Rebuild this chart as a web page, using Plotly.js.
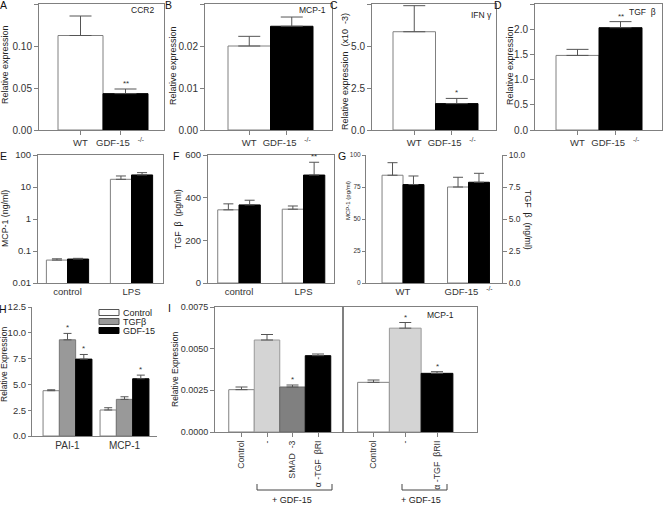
<!DOCTYPE html>
<html><head><meta charset="utf-8">
<script src="https://cdn.plot.ly/plotly-3.0.1.min.js"></script>
<style>html,body{margin:0;padding:0;background:#fff}</style>
</head><body><div id="chart" style="width:664px;height:510px"></div>
<script>
// ---------------- data ----------------
const genotypeLabels = ['WT', 'GDF-15   <sup>-/-</sup>'];
const ccr2 = [0.1125, 0.0433], ccr2Err = [0.0232, 0.0055];
const mcp1Rel = [0.0200, 0.0247], mcp1RelErr = [0.0023, 0.0022];
const ifng = [5.85, 1.57], ifngErr = [1.55, 0.31];
const tgfbRel = [1.48, 2.03], tgfbRelErr = [0.12, 0.12];

const treatments = ['control', 'LPS'];
const mcp1WT = [0.052, 17.4], mcp1WTErr = [0.005, 4.7];
const mcp1KO = [0.056, 23.8], mcp1KOErr = [0.003, 4.3];
const tgfbWT = [343, 346], tgfbWTErr = [28, 15];
const tgfbKO = [366, 506], tgfbKOErr = [22, 60];

const gMcp1 = [84.2, 75.0], gMcp1Err = [9.8, 7.6];
const gTgfb = [7.69, 7.87], gTgfbErr = [0.67, 0.70];

const hGenes = ['PAI-1', 'MCP-1'];
const hSeries = ['Control', 'TGFβ', 'GDF-15'];
const hControl = [4.39, 2.52], hControlErr = [0.09, 0.22];
const hTgfb = [9.32, 3.55], hTgfbErr = [0.62, 0.25];
const hGdf = [7.45, 5.55], hGdfErr = [0.45, 0.35];

const iLeftLabels = ['Control', '-', 'SMAD  -3', 'α -TGF  βRI'];
const iLeft = [0.00254, 0.00552, 0.00270, 0.00458], iLeftErr = [0.00016, 0.00033, 0.00012, 0.00010];
const iRightLabels = ['Control', '-', 'α -TGF  βRII'];
const iRight = [0.00298, 0.00623, 0.00352], iRightErr = [0.00014, 0.00034, 0.00010];

// ---------------- style / geometry ----------------
const W = 664, H = 510;
const FAM = 'Liberation Sans, Arial, Helvetica, sans-serif';
const LC = '#808080';
const f = (s, c) => ({family: FAM, size: s, color: c || '#333'});
const TF = f(9.5);
const WHITE = '#ffffff', BLACK = '#000000';
const px = p => p / W, py = p => 1 - p / H;

function xCat(l, r, c0, s, anchor, extra) {
  return Object.assign({
    domain: [l / W, r / W], range: [(l - c0) / s, (r - c0) / s], anchor: anchor,
    showline: true, linecolor: LC, linewidth: 1, showgrid: false, zeroline: false,
    ticks: 'outside', ticklen: 4, tickcolor: LC, tickfont: TF, fixedrange: true
  }, extra || {});
}
function yAx(t, b, range, anchor, extra) {
  return Object.assign({
    domain: [1 - b / H, 1 - t / H], range: range, anchor: anchor,
    showline: true, linecolor: LC, linewidth: 1, showgrid: false, zeroline: false,
    ticks: 'outside', ticklen: 4, tickcolor: LC, tickfont: TF, fixedrange: true
  }, extra || {});
}
function errY(arr, w) {
  return {type: 'data', array: arr, arrayminus: arr.map(() => 0), symmetric: false,
          color: '#555', thickness: 1, width: w};
}
function bar(x, y, err, xa, ya, fill, line, width, offset, ew) {
  const t = {type: 'bar', x: x, y: y, xaxis: xa, yaxis: ya, width: width,
    marker: {color: fill, line: {color: line, width: 1}},
    error_y: errY(err, ew), hoverinfo: 'skip'};
  if (offset !== null) t.offset = offset;
  return t;
}
const idx = n => Array.from({length: n}, (_, i) => i);

// ---------------- traces ----------------
const traces = [];
// A-D: WT (white) vs GDF-15-/- (black)
[[ccr2, ccr2Err, 'x', 'y'], [mcp1Rel, mcp1RelErr, 'x2', 'y2'],
 [ifng, ifngErr, 'x3', 'y3'], [tgfbRel, tgfbRelErr, 'x4', 'y4']].forEach(p => {
  traces.push(bar([0, 1], p[0], p[1], p[2], p[3], [WHITE, BLACK], [LC, BLACK], 1, null, 11));
});
// E
const wEF = 0.33;
traces.push(bar([0, 1], mcp1WT, mcp1WTErr, 'x5', 'y5', WHITE, LC, wEF, -wEF, 5));
traces.push(bar([0, 1], mcp1KO, mcp1KOErr, 'x5', 'y5', BLACK, BLACK, wEF, 0, 5));
// F
traces.push(bar([0, 1], tgfbWT, tgfbWTErr, 'x6', 'y6', WHITE, LC, wEF, -wEF, 5));
traces.push(bar([0, 1], tgfbKO, tgfbKOErr, 'x6', 'y6', BLACK, BLACK, wEF, 0, 5));
// G
const wG = 0.32;
traces.push(bar([0, 1], gMcp1, gMcp1Err, 'x7', 'y7', WHITE, LC, wG, -wG, 5));
traces.push(bar([0, 1], gTgfb, gTgfbErr, 'x7', 'y8', BLACK, BLACK, wG, 0, 5));
// H
const wH = 0.286;
traces.push(bar([0, 1], hControl, hControlErr, 'x9', 'y9', WHITE, LC, wH, -1.5 * wH, 4));
traces.push(bar([0, 1], hTgfb, hTgfbErr, 'x9', 'y9', '#999999', '#777', wH, -0.5 * wH, 4));
traces.push(bar([0, 1], hGdf, hGdfErr, 'x9', 'y9', BLACK, BLACK, wH, 0.5 * wH, 4));
// I
traces.push(bar(idx(iLeft.length), iLeft, iLeftErr, 'x10', 'y10',
  [WHITE, '#d4d4d4', '#808080', BLACK], [LC, '#999', '#666', BLACK], 1, null, 6));
traces.push(bar(idx(iRight.length), iRight, iRightErr, 'x11', 'y11',
  [WHITE, '#d4d4d4', BLACK], [LC, '#999', BLACK], 1, null, 6));

// ---------------- annotations ----------------
const ann = [];
function txt(x, y, text, o) {
  ann.push(Object.assign({xref: 'paper', yref: 'paper', x: px(x), y: py(y), text: text,
    showarrow: false, xanchor: 'center', yanchor: 'middle', font: f(9, '#222')}, o || {}));
}
function star(xa, ya, x, y, s) {
  ann.push({xref: xa, yref: ya, x: x, y: y, text: s, showarrow: false, yanchor: 'bottom',
    yshift: -1, font: f(8)});
}
// panel letters
[['A', 3, 5], ['B', 168, 5], ['C', 334, 5], ['D', 498, 5], ['E', 3, 156], ['F', 176, 156],
 ['G', 342, 156], ['H', 2.5, 309], ['I', 169, 308]].forEach(l =>
  txt(l[1], l[2], l[0], {font: f(10.5, '#111')}));
// inner labels
txt(142, 10, 'CCR2', {font: f(8.5, '#222')}); txt(312, 10, 'MCP-1', {font: f(8.5, '#222')});
txt(481, 15, 'IFN γ', {font: f(8.5, '#222')}); txt(642, 12, 'TGF  β', {font: f(8.5, '#222')});
txt(440, 315, 'MCP-1', {font: f(8.5, '#222')});
// y titles
const tA = f(9, '#222'), tE = f(8.8, '#222'), tH = f(8.5, '#222');
txt(5, 65, 'Relative expression', {textangle: -90, font: tA});
txt(173, 66, 'Relative expression', {textangle: -90, font: tA});
txt(345, 72, 'Relative expression  (x10  -3)', {textangle: -90, font: tA});
txt(510, 66, 'Relative expression', {textangle: -90, font: tA});
txt(5, 219, 'MCP-1 (ng/ml)', {textangle: -90, font: tE});
txt(178, 219, 'TGF  β  (pg/ml)', {textangle: -90, font: tE});
txt(348, 201, 'MCP-1 (pg/ml)', {textangle: -90, font: f(6, '#222')});
txt(528, 220, 'TGF  β  (ng/ml)', {textangle: 90, font: tE});
txt(4, 365, 'Relative Expression', {textangle: -90, font: tH});
txt(175, 370, 'Relative Expression', {textangle: -90, font: tH});
// stars
star('x', 'y', 1, ccr2[1] + ccr2Err[1], '**');
star('x3', 'y3', 1, ifng[1] + ifngErr[1], '*');
star('x4', 'y4', 1, tgfbRel[1] + tgfbRelErr[1], '**');
star('x6', 'y6', 1 + wEF / 2, tgfbKO[1] + tgfbKOErr[1], '**');
star('x9', 'y9', 0, hTgfb[0] + hTgfbErr[0], '*');
star('x9', 'y9', wH, hGdf[0] + hGdfErr[0], '*');
star('x9', 'y9', 1 + wH, hGdf[1] + hGdfErr[1], '*');
star('x10', 'y10', 2, iLeft[2] + iLeftErr[2], '*');
star('x11', 'y11', 1, iRight[1] + iRightErr[1], '*');
star('x11', 'y11', 2, iRight[2] + iRightErr[2], '*');
// H legend text
const legRows = [312.5, 321.5, 330.5];
hSeries.forEach((s, i) => txt(120.5, legRows[i], s, {xanchor: 'left', font: f(9, '#222')}));
// I brackets text
txt(292, 500, '+ GDF-15', {font: f(9, '#222')}); txt(421, 500, '+ GDF-15', {font: f(9, '#222')});

// ---------------- shapes ----------------
const shapes = [];
const legFill = [[WHITE, '#555'], ['#999999', '#555'], [BLACK, BLACK]];
legRows.forEach((y, i) => shapes.push({type: 'rect', xref: 'paper', yref: 'paper',
  x0: px(99), x1: px(119), y0: py(y + 3), y1: py(y - 3),
  fillcolor: legFill[i][0], line: {color: legFill[i][1], width: 1}}));
function bracket(l, r, top, bot) {
  shapes.push({type: 'path', xref: 'paper', yref: 'paper',
    path: `M${px(l)},${py(top)} L${px(l)},${py(bot)} L${px(r)},${py(bot)} L${px(r)},${py(top)}`,
    line: {color: '#444', width: 1}});
}
bracket(257, 332, 484, 490);
bracket(402, 447, 484, 490);

// ---------------- layout ----------------
const layout = {
  width: W, height: H, margin: {l: 0, r: 0, t: 0, b: 0}, autosize: false,
  paper_bgcolor: '#fff', plot_bgcolor: 'rgba(0,0,0,0)', showlegend: false,
  barmode: 'overlay', font: {family: FAM, size: 9, color: '#333'},
  xaxis: xCat(39, 164, 80.5, 45, 'y', {mirror: true, tickvals: [0, 0.88], ticktext: genotypeLabels}),
  yaxis: yAx(4, 130, [0, 0.15], 'x', {mirror: true, dtick: 0.05, tickformat: '.2f', tickfont: f(10)}),
  xaxis2: xCat(205, 332, 249.25, 42.5, 'y2', {mirror: true, tickvals: [0, 0.88], ticktext: genotypeLabels}),
  yaxis2: yAx(4, 130, [0, 0.03], 'x2', {mirror: true, dtick: 0.01, tickformat: '.2f', tickfont: f(10)}),
  xaxis3: xCat(372, 496, 414.25, 42.5, 'y3', {mirror: true, tickvals: [0, 0.88], ticktext: genotypeLabels}),
  yaxis3: yAx(4, 130, [0, 7.5], 'x3', {mirror: true, dtick: 2.5, tickformat: '.1f', tickfont: f(10)}),
  xaxis4: xCat(535, 662, 577.5, 43, 'y4', {mirror: true, tickvals: [0, 0.88], ticktext: genotypeLabels}),
  yaxis4: yAx(4, 130, [0, 2.5], 'x4', {mirror: true, dtick: 0.5, tickformat: '.1f', tickfont: f(10)}),
  xaxis5: xCat(38, 163, 67.5, 64, 'y5', {mirror: true, ticks: '', tickvals: [0, 1], ticktext: treatments}),
  yaxis5: yAx(155, 283, [-2, 2], 'x5', {type: 'log', mirror: true,
    tickvals: [0.01, 0.1, 1, 10, 100], ticktext: ['0.01', '0.1', '1', '10', '100']}),
  xaxis6: xCat(208, 334, 239, 64.5, 'y6', {mirror: true, ticks: '', tickvals: [0, 1], ticktext: treatments}),
  yaxis6: yAx(155, 283, [0, 600], 'x6', {mirror: true, dtick: 200}),
  xaxis7: xCat(366, 502, 403, 65.5, 'y7', {ticks: '', tickvals: [0, 1], ticktext: genotypeLabels}),
  yaxis7: yAx(155, 283, [0, 100], 'x7', {dtick: 25, ticklen: 3, tickfont: f(6.5)}),
  yaxis8: yAx(155, 283, [0, 10], 'x7', {overlaying: 'y7', side: 'right', dtick: 2.5, tickformat: '.1f', tickfont: f(8.5)}),
  xaxis9: xCat(32, 157, 67.5, 57, 'y9', {ticks: '', tickvals: [0, 1], ticktext: hGenes, tickfont: f(10)}),
  yaxis9: yAx(307, 436, [0, 12.5], 'x9', {dtick: 2.5, tickformat: '.1f', ticklen: 3, tickfont: f(9.5)}),
  xaxis10: xCat(215, 343, 241.5, 25.5, 'y10', {mirror: true, tickangle: -90,
    tickvals: idx(iLeftLabels.length), ticktext: iLeftLabels, tickfont: f(8.8)}),
  yaxis10: yAx(307, 432, [0, 0.0075], 'x10', {mirror: true, dtick: 0.0025, tickformat: '.4f', tickfont: f(9)}),
  xaxis11: xCat(343, 477, 373.5, 31.75, 'y11', {mirror: true, tickangle: -90,
    tickvals: idx(iRightLabels.length), ticktext: iRightLabels, tickfont: f(8.8)}),
  yaxis11: yAx(307, 432, [0, 0.0075], 'x11', {mirror: true, ticks: '', showticklabels: false}),
  annotations: ann, shapes: shapes
};

Plotly.newPlot('chart', traces, layout, {staticPlot: true, displayModeBar: false});
</script>
</body></html>
